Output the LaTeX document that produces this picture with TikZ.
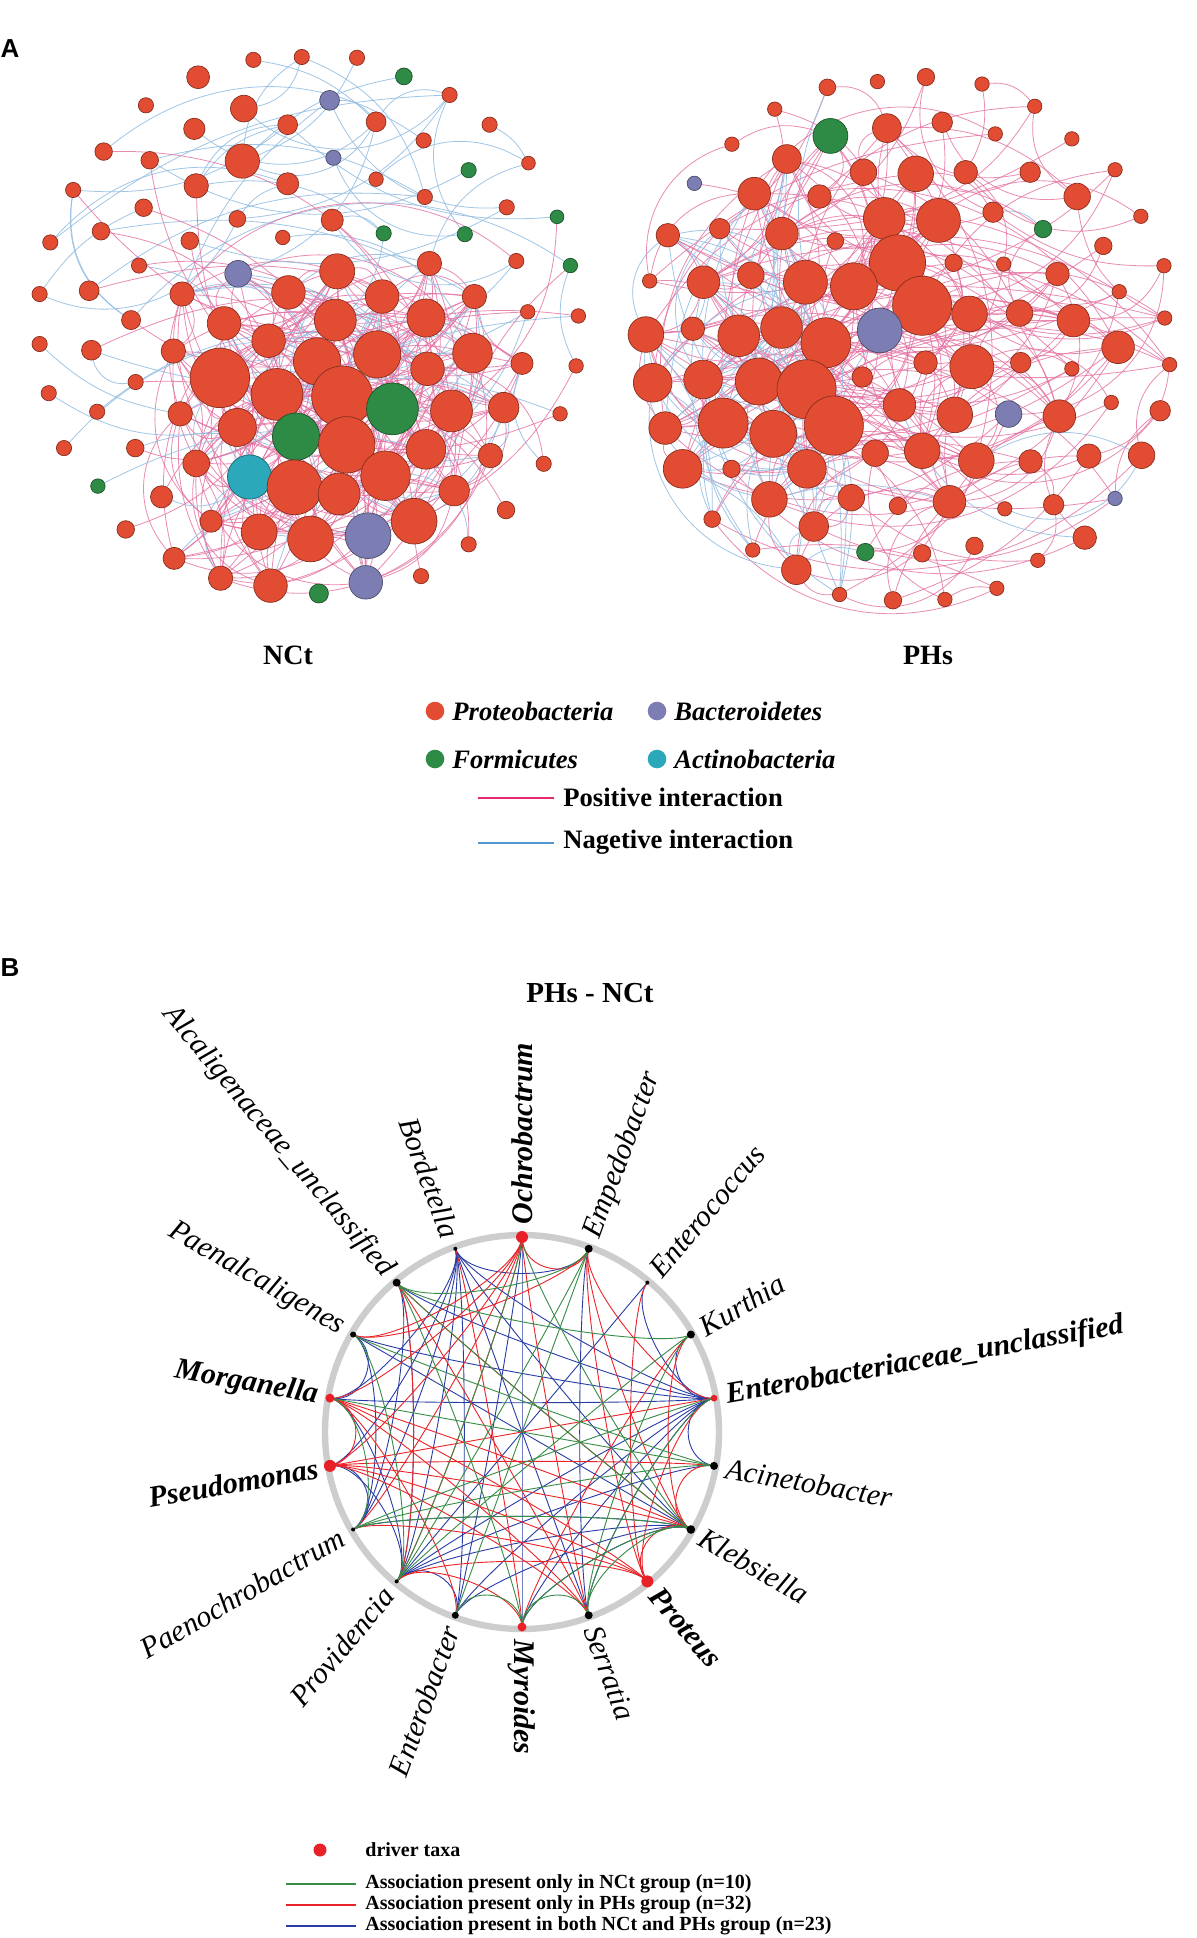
\documentclass[tikz,border=0pt]{standalone}
\usepackage{fontspec}
\setmainfont{Liberation Serif}
\newfontfamily\arialfont{Liberation Sans}
\usetikzlibrary{calc}
\pgfdeclarelayer{back}
\pgfdeclarelayer{bg}
\pgfsetlayers{back,bg,main}
\definecolor{colR}{RGB}{226,76,50}
\definecolor{colG}{RGB}{46,139,70}
\definecolor{colP}{RGB}{124,125,178}
\definecolor{colC}{RGB}{43,168,186}
\definecolor{posE}{RGB}{228,110,160}
\definecolor{negE}{RGB}{150,192,228}
\definecolor{lgPos}{RGB}{230,40,110}
\definecolor{lgNeg}{RGB}{80,150,210}
\definecolor{bRed}{RGB}{235,35,40}
\definecolor{bGreen}{RGB}{55,140,70}
\definecolor{bBlue}{RGB}{40,60,165}
\definecolor{ringgray}{RGB}{205,205,205}
\definecolor{drv}{RGB}{232,32,40}
\tikzset{
  netnode/.style={circle, inner sep=0pt, line width=0.35pt},
  posedge/.style={draw=posE, line width=0.4pt, opacity=0.8},
  negedge/.style={draw=negE, line width=0.4pt, opacity=0.9},
  legdot/.style={circle, inner sep=0pt, minimum size=9.3pt},
  legtext/.style={anchor=base west, inner sep=0pt, font=\fontsize{13.3}{15}\selectfont\bfseries\itshape},
  legtextup/.style={anchor=base west, inner sep=0pt, font=\fontsize{13.3}{15}\selectfont\bfseries},
  paneltitle/.style={font=\fontsize{14}{16}\selectfont\bfseries, inner sep=0pt},
  panelletter/.style={font=\arialfont\fontsize{13}{15}\selectfont\bfseries, inner sep=0pt},
  bdot/.style={circle, inner sep=0pt},
  blabel/.style={inner sep=0pt},
  bedge/.style={line width=0.45pt},
  smalllegend/.style={anchor=west, inner sep=0pt, font=\fontsize{10}{12}\selectfont\bfseries}
}
\begin{document}
\begin{tikzpicture}[x=0.5pt,y=-0.5pt]
\useasboundingbox (0,0) rectangle (1197,1938);
\begin{pgfonlayer}{back}
\fill[white] (0,0) rectangle (1197,1938);
\end{pgfonlayer}

% ---------------- panel A: NCt network ----------------
\begin{scope}[x=0.1905pt,y=-0.2065pt]
\foreach \i/\x/\y/\r/\c in {1/665/145/20/R,2/792/138/20/R,3/937/140/20/R,4/1060/185/22/G,5/520/187/30/R,6/383/255/20/R,7/640/263/35/R,8/865/243/26/P,9/1180/230/20/R,10/510/312/28/R,11/755/302/26/R,12/987/295/26/R,13/1285/302/20/R,14/1112/340/20/R,15/272/367/23/R,16/393/388/23/R,17/636/390/45/R,18/875/382/20/P,19/1387/395/18/R,20/1230/412/20/G,21/192/460/20/R,22/515/450/32/R,23/755/445/29/R,24/987/434/19/R,25/1115/477/20/R,26/377/503/23/R,27/1330/502/20/R,28/1462/525/18/G,29/265/560/23/R,30/623/530/22/R,31/872/533/29/R,32/132/587/20/R,33/498/583/23/R,34/742/575/19/R,35/1007/565/20/G,36/1220/567/20/G,37/365/643/20/R,38/625/663/35/P,39/885/657/46/R,40/1127/638/32/R,41/1355/632/20/R,42/1497/643/19/G,43/104/712/20/R,44/234/704/26/R,45/478/712/32/R,46/757/708/44/R,47/1003/718/44/R,48/1245/718/32/R,49/344/775/25/R,50/588/783/44/R,51/880/775/55/R,52/1118/770/50/R,53/1385/755/19/R,54/1518/765/19/R,55/104/833/20/R,56/240/848/26/R,57/455/850/32/R,58/705/825/44/R,59/832/875/62/R,60/990/858/62/R,61/1240/855/52/R,62/1122/893/44/R,63/1370/880/29/R,64/1512/886/19/R,65/577/915/78/R,66/727/955/68/R,67/898/960/80/R,68/1030/990/68/G,69/1185/995/55/R,70/1322/987/40/R,71/356/925/20/R,72/128/952/20/R,73/255/997/20/R,74/473/1002/32/R,75/623/1035/50/R,76/777/1057/62/G,77/910/1077/74/R,78/1118/1088/52/R,79/1470/1002/19/R,80/168/1085/20/R,81/355/1085/23/R,82/515/1122/35/R,83/655/1155/58/C,84/773/1180/72/R,85/890/1196/55/R,86/1012/1152/65/R,87/1287/1103/32/R,88/1427/1123/20/R,89/257/1177/19/G,90/424/1203/29/R,91/1192/1188/40/R,92/554/1262/29/R,93/680/1288/47/R,94/815/1305/60/R,95/966/1297/60/P,96/1087/1262/60/R,97/1328/1235/23/R,98/330/1282/23/R,99/1230/1318/20/R,100/457/1352/29/R,101/579/1400/32/R,102/710/1418/44/R,103/837/1437/25/G,104/960/1410/44/P,105/1105/1395/20/R}
  {\node[netnode, fill=col\c, draw=col\c!60!black, minimum size=\r*0.381pt] (c\i) at (\x,\y) {};}
\end{scope}

% ---------------- panel A: PHs network ----------------
\begin{scope}[xshift=300pt,x=0.1895pt,y=-0.206pt]
\foreach \i/\x/\y/\r/\c in {1/600/212/22/R,2/732/198/19/R,3/860/187/23/R,4/1008/204/19/R,5/461/265/19/R,6/1147/258/19/R,7/608/330/46/G,8/757/311/38/R,9/903/297/27/R,10/1043/325/19/R,11/1245/337/19/R,12/348/350/19/R,13/493/386/38/R,14/695/418/35/R,15/833/422/47/R,16/965/418/31/R,17/1135/418/27/R,18/1359/412/19/R,19/249/445/19/P,20/407/470/43/R,21/579/477/31/R,22/1259/477/35/R,23/1427/525/19/R,24/750/530/55/R,25/893/535/58/R,26/1037/515/27/R,27/1169/556/23/G,28/179/571/31/R,29/316/555/27/R,30/480/567/43/R,31/621/585/22/R,32/1328/597/23/R,33/785/638/74/R,34/933/638/23/R,35/1065/641/19/R,36/1207/665/31/R,37/1488/645/19/R,38/131/682/19/R,39/273/685/43/R,40/398/668/35/R,41/542/685/58/R,42/670/695/62/R,43/1370/708/19/R,44/850/742/78/R,45/975/762/47/R,46/1107/760/35/R,47/1249/778/43/R,48/1490/772/19/R,49/121/812/47/R,50/245/798/31/R,51/366/815/55/R,52/479/795/55/R,53/596/832/66/R,54/738/802/59/P,55/1367/843/43/R,56/859/880/31/R,57/981/890/58/R,58/1110/880/27/R,59/1245/895/19/R,60/1503/885/19/R,61/139/929/51/R,62/272/921/51/R,63/419/926/62/R,64/545/945/78/R,65/692/915/27/R,66/1349/977/19/R,67/790/983/43/R,68/936/1007/47/R,69/1078/1005/35/P,70/1212/1010/43/R,71/1478/997/27/R,72/172/1039/43/R,73/325/1027/66/R,74/457/1053/62/R,75/617/1033/78/R,76/726/1100/35/R,77/850/1094/47/R,78/993/1118/47/R,79/1136/1120/31/R,80/1290/1107/32/R,81/1429/1105/35/R,82/218/1138/51/R,83/347/1138/23/R,84/546/1138/51/R,85/447/1212/47/R,86/663/1208/35/R,87/786/1228/23/R,88/922/1218/43/R,89/1068/1235/19/R,90/1197/1225/27/R,91/1359/1210/19/P,92/296/1260/22/R,93/564/1278/39/R,94/1279/1305/31/R,95/403/1335/19/R,96/700/1340/23/G,97/850/1343/23/R,98/988/1325/23/R,99/1155/1360/19/R,100/518/1383/39/R,101/632/1443/19/R,102/773/1457/23/R,103/910/1455/19/R,104/1047/1428/19/R}
  {\node[netnode, fill=col\c, draw=col\c!60!black, minimum size=\r*0.379pt] (p\i) at (\x,\y) {};}
\end{scope}

% ---------------- edges of panel A ----------------
\def\coreNCt{{38,39,40,45,46,47,48,50,51,52,57,58,59,60,61,62,63,65,66,67,68,69,70,74,75,76,77,78,82,83,84,85,86,87,91,92,93,94,95,96,100,101,102,104}}
\def\bigPHs{{7,8,13,15,20,24,25,30,33,39,41,42,44,45,47,49,51,52,53,54,55,57,61,62,63,64,67,68,70,72,73,74,75,77,78,82,84,85,88}}
\def\bluePHs{{39,40,41,49,50,51,52,53,61,62,63,64,72,73,74,75,82,83,84,85,92,93,95,100,101,28,29,30,20,13}}
\newcommand\rbend{\pgfmathtruncatemacro{\bnd}{(2*random(0,1)-1)*random(15,45)}}
\begin{pgfonlayer}{bg}
\pgfmathsetseed{11}
% NCt: positive edges in the core
\foreach \i in {0,...,43}{
  \pgfmathtruncatemacro{\na}{\coreNCt[\i]}
  \foreach \e in {1,...,5}{
    \pgfmathtruncatemacro{\kk}{random(0,43)}
    \pgfmathtruncatemacro{\nb}{\coreNCt[\kk]}
    \rbend
    \ifnum\na=\nb\else\draw[posedge] (c\na) to[bend left=\bnd] (c\nb);\fi
  }
  \pgfmathtruncatemacro{\kk}{random(0,43)}
  \pgfmathtruncatemacro{\nb}{\coreNCt[\kk]}
  \rbend
  \ifnum\na=\nb\else\draw[negedge] (c\na) to[bend left=\bnd] (c\nb);\fi
}
% NCt: negative edges of the outer nodes
\foreach \i in {1,2,3,4,5,6,7,8,9,10,11,12,13,14,15,16,17,18,19,20,21,22,23,24,25,26,27,28,29,30,31,32,33,34,35,36,37,41,42,43,44,49,53,54,55,56,64,71,72,73,79,80,81,88,89,90,97,98,99,103,105}{
  \pgfmathtruncatemacro{\nb}{\i+random(-28,28)}
  \rbend
  \ifnum\nb<1 \else\ifnum\nb>105 \else\ifnum\nb=\i \else
    \draw[negedge] (c\i) to[bend left=\bnd] (c\nb);
  \fi\fi\fi
}
\foreach \i in {5,7,10,11,17,22,23,31,8,12}{
  \pgfmathtruncatemacro{\nb}{random(1,50)}
  \rbend
  \ifnum\nb=\i \else\draw[negedge] (c\i) to[bend left=\bnd] (c\nb);\fi
}
% NCt: positive edges from the periphery to the core
\foreach \i in {15,16,22,26,29,44,49,56,71,81,90,98,41,53,54,64,79,88,97,99,105,33,37,57,74,21,31,28,42}{
  \pgfmathtruncatemacro{\kk}{random(0,43)}
  \pgfmathtruncatemacro{\nb}{\coreNCt[\kk]}
  \rbend
  \ifnum\nb=\i \else\draw[posedge] (c\i) to[bend left=\bnd] (c\nb);\fi
}
% PHs: positive edges
\foreach \i in {1,...,104}{
  \foreach \e in {1,2}{
    \pgfmathtruncatemacro{\nb}{\i+random(-35,35)}
    \rbend
    \ifnum\nb<1 \else\ifnum\nb>104 \else\ifnum\nb=\i \else
      \draw[posedge] (p\i) to[bend left=\bnd] (p\nb);
    \fi\fi\fi
  }
  \pgfmathtruncatemacro{\sel}{random(0,4)}
  \ifnum\sel=0
    \pgfmathtruncatemacro{\nb}{\i+random(-40,40)}
    \rbend
    \ifnum\nb<1 \else\ifnum\nb>104 \else\ifnum\nb=\i \else
      \draw[negedge] (p\i) to[bend left=\bnd] (p\nb);
    \fi\fi\fi
  \fi
}
\foreach \i in {0,...,38}{
  \pgfmathtruncatemacro{\na}{\bigPHs[\i]}
  \foreach \e in {1,2,3}{
    \pgfmathtruncatemacro{\kk}{random(0,38)}
    \pgfmathtruncatemacro{\nb}{\bigPHs[\kk]}
    \rbend
    \ifnum\na=\nb\else\draw[posedge] (p\na) to[bend left=\bnd] (p\nb);\fi
  }
}
\foreach \i in {0,...,29}{
  \pgfmathtruncatemacro{\na}{\bluePHs[\i]}
  \foreach \e in {1,2}{
    \pgfmathtruncatemacro{\kk}{random(0,29)}
    \pgfmathtruncatemacro{\nb}{\bluePHs[\kk]}
    \rbend
    \ifnum\na=\nb\else\draw[negedge] (p\na) to[bend left=\bnd] (p\nb);\fi
  }
}
\end{pgfonlayer}

% ---------------- labels and legend of panel A ----------------
\node[panelletter] (lA) at (10,49) {A};
\node[paneltitle] (tNCt) at (288,655) {NCt};
\node[paneltitle] (tPHs) at (928,655) {PHs};
\node[legdot, fill=colR] (d1) at (435,711) {};
\node[legtext] (t1) at (452,720) {Proteobacteria};
\node[legdot, fill=colP] (d2) at (657,711) {};
\node[legtext] (t2) at (674,720) {Bacteroidetes};
\node[legdot, fill=colG] (d3) at (435,759) {};
\node[legtext] (t3) at (452,768) {Formicutes};
\node[legdot, fill=colC] (d4) at (657,759) {};
\node[legtext] (t4) at (674,768) {Actinobacteria};
\coordinate (lp1) at (478,798); \coordinate (lp2) at (554,798);
\draw[lgPos, line width=1pt] (lp1) -- (lp2);
\node[legtextup] (t5) at (563,806.5) {Positive interaction};
\coordinate (ln1) at (478,843); \coordinate (ln2) at (554,843);
\draw[lgNeg, line width=1pt] (ln1) -- (ln2);
\node[legtextup] (t6) at (563,848) {Nagetive interaction};

% ---------------- panel B ----------------
\node[panelletter] (lB) at (10,968) {B};
\node[paneltitle, font=\fontsize{14.5}{16}\selectfont\bfseries] (tB) at (590,993) {PHs - NCt};
\coordinate (bc) at (522,1432);
\foreach \k/\r/\cl in {0/6/drv,1/4/black,2/2/black,3/4/black,4/3.4/drv,5/4/black,6/4.3/black,7/6/drv,8/4/black,9/4.5/drv,10/3.5/black,11/2/black,12/2/black,13/6/drv,14/4.5/drv,15/3/black,16/4/black,17/2/black}{
  \pgfmathsetmacro{\t}{90-20*\k}
  \node[bdot, fill=\cl, minimum size=\r*1pt] (b\k) at ({522+195*cos(\t)},{1432-195*sin(\t)}) {};
}
\begin{pgfonlayer}{bg}
\draw[ringgray, line width=3.2pt] (bc) circle[radius=197];
\foreach \u/\v/\cl in {17/11/bBlue,17/12/bBlue,17/13/bBlue,17/1/bBlue,17/4/bBlue,17/6/bBlue,17/10/bBlue,16/4/bBlue,16/12/bBlue,16/11/bBlue,15/4/bBlue,15/6/bBlue,15/12/bBlue,15/14/bBlue,14/4/bBlue,14/11/bBlue,13/11/bBlue,12/6/bBlue,12/13/bBlue,11/2/bBlue,11/4/bBlue,11/6/bBlue,11/10/bBlue,10/6/bBlue,10/4/bBlue,10/0/bBlue,9/4/bBlue,9/6/bBlue,9/0/bBlue,8/1/bBlue,8/4/bBlue,5/4/bBlue,5/11/bBlue,3/4/bBlue,2/4/bBlue,17/8/bBlue,17/14/bBlue,
0/13/bRed,0/14/bRed,0/11/bRed,0/12/bRed,0/8/bRed,0/1/bRed,1/15/bRed,1/4/bRed,1/7/bRed,1/6/bRed,2/7/bRed,3/6/bRed,3/9/bRed,4/7/bRed,4/13/bRed,5/6/bRed,5/13/bRed,6/7/bRed,6/13/bRed,6/14/bRed,6/16/bRed,7/11/bRed,7/13/bRed,7/14/bRed,8/13/bRed,9/17/bRed,9/11/bRed,10/14/bRed,11/16/bRed,13/14/bRed,15/0/bRed,8/16/bRed,12/7/bRed,14/8/bRed,
16/1/bGreen,16/6/bGreen,16/9/bGreen,1/11/bGreen,1/10/bGreen,3/11/bGreen,3/8/bGreen,5/14/bGreen,5/12/bGreen,6/12/bGreen,6/8/bGreen,6/9/bGreen,4/12/bGreen,4/8/bGreen,8/9/bGreen,9/10/bGreen,11/15/bGreen,11/0/bGreen,12/14/bGreen,0/6/bGreen,16/3/bGreen,15/5/bGreen}{
  \draw[bedge, draw=\cl] (b\u.center) .. controls ($(b\u.center)!0.18!(bc)$) and ($(b\v.center)!0.18!(bc)$) .. (b\v.center);
}
\end{pgfonlayer}
\foreach \k/\txt/\bd in {0/Ochrobactrum/1,1/Empedobacter/0,2/Enterococcus/0,3/Kurthia/0,4/Enterobacteriaceae\_unclassified/1,5/Acinetobacter/0,6/Klebsiella/0,7/Proteus/1,8/Serratia/0,9/Myroides/1,10/Enterobacter/0,11/Providencia/0,12/Paenochrobactrum/0,13/Pseudomonas/1,14/Morganella/1,15/Paenalcaligenes/0,16/Alcaligenaceae\_unclassified/0,17/Bordetella/0}{
  \pgfmathsetmacro{\t}{90-20*\k}
  \ifnum\bd=1 \def\ff{\bfseries\itshape}\else\def\ff{\itshape}\fi
  \ifnum\k<10
    \node[blabel, font=\fontsize{15}{18}\selectfont\ff, rotate=\t, anchor=west] (L\k) at ({522+207*cos(\t)},{1432-207*sin(\t)}) {\txt};
  \else
    \pgfmathsetmacro{\rt}{\t+180}
    \node[blabel, font=\fontsize{15}{18}\selectfont\ff, rotate=\rt, anchor=east] (L\k) at ({522+207*cos(\t)},{1432-207*sin(\t)}) {\txt};
  \fi
}
% legend of panel B
\node[bdot, fill=drv, minimum size=6.5pt] (ld) at (320,1850) {};
\node[smalllegend] (lt0) at (365,1850) {driver taxa};
\coordinate (g1) at (286,1884); \coordinate (g2) at (356,1884);
\draw[bGreen, line width=0.8pt] (g1) -- (g2);
\node[smalllegend] (lt1) at (365,1884) {Association present only in NCt group (n=10)};
\coordinate (r1) at (286,1905); \coordinate (r2) at (356,1905);
\draw[bRed, line width=0.8pt] (r1) -- (r2);
\node[smalllegend] (lt2) at (365,1905) {Association present only in PHs group (n=32)};
\coordinate (u1) at (286,1926); \coordinate (u2) at (356,1926);
\draw[bBlue, line width=0.8pt] (u1) -- (u2);
\node[smalllegend] (lt3) at (365,1926) {Association present in both NCt and PHs group (n=23)};
\end{tikzpicture}
\end{document}
